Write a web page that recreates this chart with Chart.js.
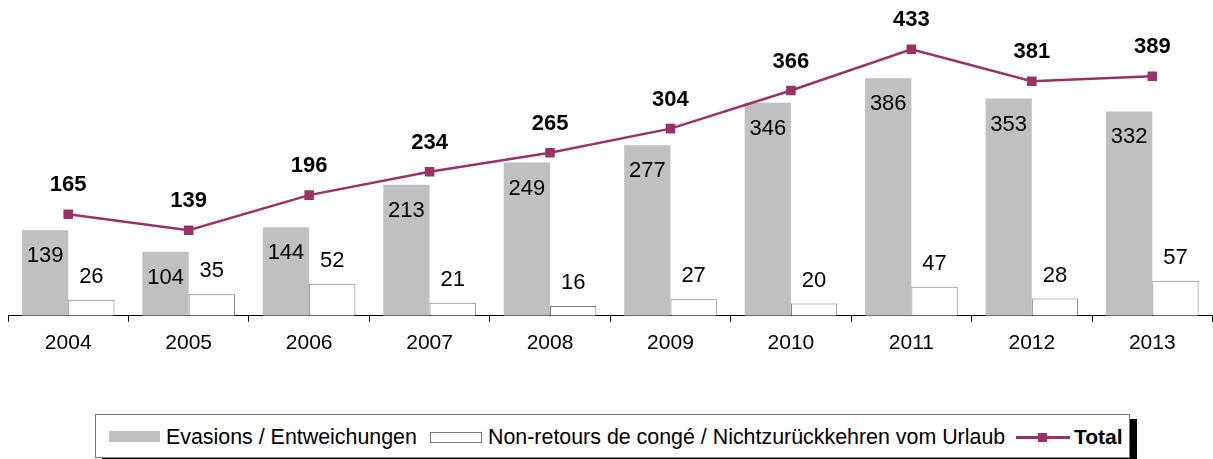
<!DOCTYPE html>
<html>
<head>
<meta charset="utf-8">
<script src="https://cdn.jsdelivr.net/npm/chart.js@4.4.1/dist/chart.umd.min.js"></script>
<style>
  html, body { margin: 0; padding: 0; background: #fff; }
  #wrap { position: relative; width: 1213px; height: 459px; overflow: hidden; font-family: "Liberation Sans", Arial, sans-serif; }
  #c { position: absolute; left: 0; top: 0; }
  #legend { position: absolute; left: 95px; top: 414px; width: 1033px; height: 42px; border: 1px solid #7a7a7a; box-shadow: 7px 5px 0 #000; background: #fff; }
  .sw, .lt { position: absolute; }
  .lt { font-size: 21.4px; line-height: 24px; top: 10px; color: #000; white-space: nowrap; }
</style>
</head>
<body>
<div id="wrap">
  <canvas id="c" width="1220" height="400"></canvas>
  <div id="legend">
    <div class="sw" style="left:13px; top:16px; width:51px; height:11px; background:#c0c0c0;"></div>
    <div class="lt" style="left:70px;">Evasions / Entweichungen</div>
    <div class="sw" style="left:334px; top:17px; width:50px; height:9px; border:1px solid #7a7a7a; background:#fff; box-sizing:content-box;"></div>
    <div class="lt" style="left:392px;">Non-retours de congé / Nichtzurückkehren vom Urlaub</div>
    <div class="sw" style="left:920px; top:21px; width:54px; height:3px; background:#993366;"></div>
    <div class="sw" style="left:942px; top:18px; width:9px; height:9px; background:#993366;"></div>
    <div class="lt" style="left:978px; font-weight:bold; font-size:21px;">Total</div>
  </div>
</div>
<script>
const years = ['2004','2005','2006','2007','2008','2009','2010','2011','2012','2013'];
const evasions = [139, 104, 144, 213, 249, 277, 346, 386, 353, 332];
const nonRetours = [26, 35, 52, 21, 16, 27, 20, 47, 28, 57];
const totals = [165, 139, 196, 234, 265, 304, 366, 433, 381, 389];

const FONT = '"Liberation Sans", Arial, sans-serif';

const labelPlugin = {
  id: 'valueLabels',
  afterDatasetsDraw(chart) {
    const ctx = chart.ctx;
    ctx.save();
    ctx.textAlign = 'center';
    ctx.textBaseline = 'middle';
    ctx.fillStyle = '#000';
    ctx.font = '22px ' + FONT;
    chart.getDatasetMeta(0).data.forEach((el, i) => {
      ctx.fillText(String(evasions[i]), el.x, el.y + 26);
    });
    chart.getDatasetMeta(1).data.forEach((el, i) => {
      ctx.fillText(String(nonRetours[i]), el.x, el.y - 23);
    });
    ctx.font = 'bold 22px ' + FONT;
    chart.getDatasetMeta(2).data.forEach((el, i) => {
      ctx.fillText(String(totals[i]), el.x, el.y - 29);
    });
    ctx.restore();
  }
};

new Chart(document.getElementById('c'), {
  data: {
    labels: years,
    datasets: [
      { type: 'bar', label: 'Evasions / Entweichungen', data: evasions, backgroundColor: '#c0c0c0', borderWidth: 0, order: 2, categoryPercentage: 0.7686, barPercentage: 1.0 },
      { type: 'bar', label: 'Non-retours de congé / Nichtzurückkehren vom Urlaub', data: nonRetours, backgroundColor: '#ffffff', borderColor: '#7a7a7a', borderWidth: 1, order: 2, categoryPercentage: 0.7686, barPercentage: 1.0 },
      { type: 'line', label: 'Total', data: totals, borderColor: '#993366', borderWidth: 2.5, pointStyle: 'rect', pointRadius: 5, pointHoverRadius: 5, pointBackgroundColor: '#993366', pointBorderColor: '#993366', tension: 0, order: 1 }
    ]
  },
  options: {
    responsive: false,
    animation: false,
    events: [],
    layout: { padding: { left: 8, right: 2, top: 8, bottom: 35 } },
    plugins: { legend: { display: false }, tooltip: { enabled: false } },
    scales: {
      x: {
        offset: true,
        grid: { offset: true, drawOnChartArea: false, drawTicks: true, tickLength: 6, color: '#000' },
        border: { display: true, color: '#000', width: 1 },
        ticks: { color: '#000', font: { family: FONT, size: 21 }, padding: 9, maxRotation: 0 }
      },
      y: { display: false, min: 0, max: 500 }
    }
  },
  plugins: [labelPlugin]
});
</script>
</body>
</html>
